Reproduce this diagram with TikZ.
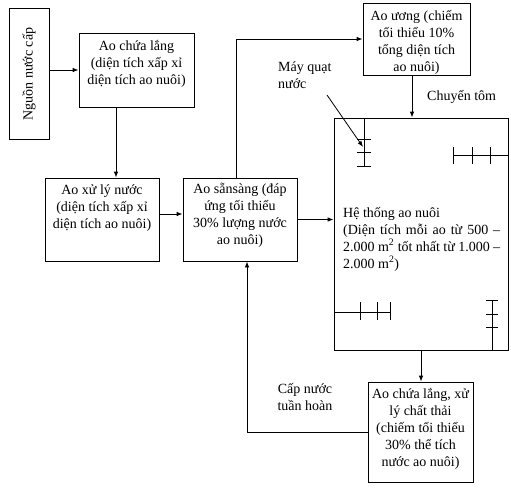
\documentclass[tikz,border=0pt]{standalone}
\usepackage{fontspec}
\setmainfont{Liberation Serif}
\usepackage{tikz}
\usetikzlibrary{arrows.meta}

\tikzset{
  pond/.style={draw, line width=0.8pt, inner sep=0pt},
  txt/.style={font=\fontsize{14}{17}\selectfont, align=center, inner sep=0pt},
  flow/.style={draw, line width=0.8pt, -{Latex[length=6pt,width=4.5pt]}},
  fan/.style={line width=0.8pt}
}

\begin{document}
\begin{tikzpicture}[x=1pt,y=-1pt]
  \useasboundingbox (0,0) rectangle (511,488);
  % ponds
  \node[pond, minimum width=40, minimum height=131] (nguon) at (29,73.5) {};
  \node[txt, rotate=90] (nguonT) at (29,74) {Nguồn nước cấp};
  \node[pond, minimum width=115, minimum height=74] (lang) at (136.5,70) {};
  \node[txt] (langT) at (136.5,64) {Ao chứa lắng\\(diện tích xấp xỉ\\diện tích ao nuôi)};
  \node[pond, minimum width=114, minimum height=83] (xuly) at (102,219.5) {};
  \node[txt] (xulyT) at (102,208) {Ao xử lý nước\\(diện tích xấp xỉ\\diện tích ao nuôi)};
  \node[pond, minimum width=114, minimum height=83] (sansang) at (240,219.5) {};
  \node[txt] (sansangT) at (240,215) {Ao sẵnsàng (đáp\\ứng tối thiểu\\30\% lượng nước\\ao nuôi)};
  \node[pond, minimum width=107, minimum height=72] (uong) at (416.5,39) {};
  \node[txt] (uongT) at (416.5,42) {Ao ương (chiếm\\tối thiểu 10\%\\tổng diện tích\\ao nuôi)};
  \node[pond, minimum width=174, minimum height=232] (heT) at (421,234) {};
  \node[txt, align=left, anchor=west] (heTT) at (343,239) {Hệ thống ao nuôi\\\makebox[157pt][s]{(Diện tích mỗi ao từ 500 –}\\\makebox[157pt][s]{2.000 m\textsuperscript{2} tốt nhất từ 1.000 –}\\2.000 m\textsuperscript{2})};
  \node[pond, minimum width=105, minimum height=100] (thai) at (420.5,432) {};
  \node[txt] (thaiT) at (420.5,428.5) {Ao chứa lắng, xử\\lý chất thải\\(chiếm tối thiểu\\30\% thể tích\\nước ao nuôi)};
  % labels
  \node[txt, anchor=west] (chuyen) at (427,97) {Chuyển tôm};
  \node[txt, align=left, anchor=north west] (mayquat) at (278,62) {Máy quạt\\nước};
  \node[txt] (capnuoc) at (305,397) {Cấp nước\\tuần hoàn};
  % flows
  \draw[flow] (nguon.east |- lang.west) -- (lang.west);
  \draw[flow] ([xshift=-20.5pt]lang.south) -- ([xshift=14pt]xuly.north);
  \draw[flow] ([yshift=5.5pt]xuly.east) -- ([yshift=5.5pt]sansang.west);
  \draw[flow] (sansang.east) -- (sansang.east -| heT.west);
  \draw[flow] ([xshift=-4pt]sansang.north) |- (uong.west);
  \draw[flow] ([xshift=-4.5pt]uong.south) -- ([xshift=-9pt]heT.north);
  \draw[flow] (heT.south) -- (heT.south |- thai.north);
  \draw[flow] (thai.west) -| ([xshift=7pt]sansang.south);
  \coordinate (qstart) at (327,95);
  \coordinate (quat) at (363,147);
  \draw[flow] (qstart) -- (quat);
  % aerators
  \draw[fan] (364,118) -- (364,167);
  \draw[fan] (357,139) -- (371,139);
  \draw[fan] (357,152) -- (371,152);
  \draw[fan] (357,166) -- (371,166);
  \draw[fan] (508,155) -- (453,155);
  \draw[fan] (453,147) -- (453,164);
  \draw[fan] (472,147) -- (472,164);
  \draw[fan] (490,147) -- (490,164);
  \draw[fan] (334,312) -- (390,312);
  \draw[fan] (360,302) -- (360,320);
  \draw[fan] (377,302) -- (377,320);
  \draw[fan] (390,302) -- (390,320);
  \draw[fan] (492,350) -- (492,300);
  \draw[fan] (486,300) -- (498,300);
  \draw[fan] (486,314) -- (498,314);
  \draw[fan] (486,327) -- (498,327);
\end{tikzpicture}
\end{document}
